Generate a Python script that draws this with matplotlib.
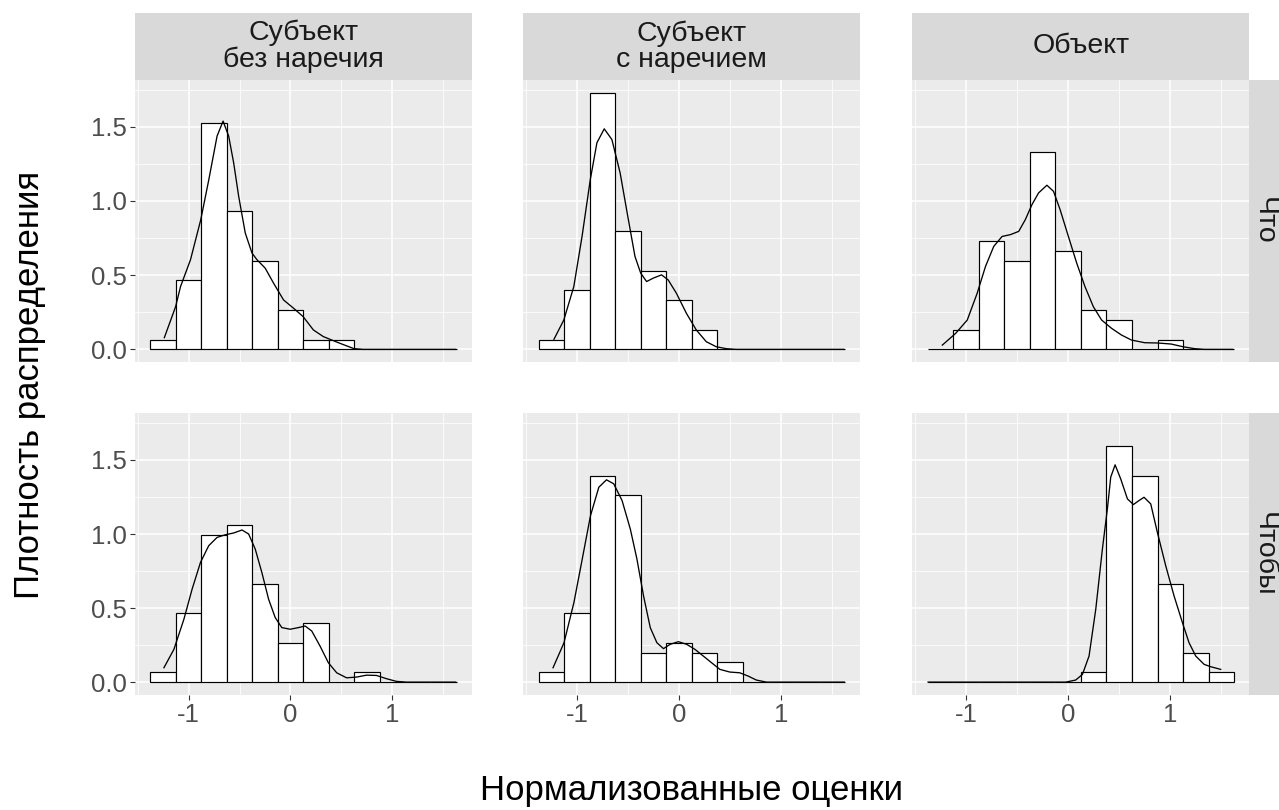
import matplotlib
matplotlib.use("Agg")
import matplotlib.pyplot as plt
import numpy as np

plt.rcParams['font.family'] = ['Liberation Sans', 'DejaVu Sans']

# ---------------- data ----------------
col_labels = ["Субъект\nбез наречия", "Субъект\nс наречием", "Объект"]
row_labels = ["Что", "Чтобы"]

bin_edges = [-1.380, -1.129, -0.878, -0.627, -0.376, -0.125, 0.126,
             0.377, 0.628, 0.879, 1.130, 1.381, 1.632]
n_obs = 60

counts_chto_subj_no_adv = [1, 7, 23, 14, 9, 4, 1, 1, 0, 0, 0, 0]
counts_chto_subj_adv = [1, 6, 26, 12, 8, 5, 2, 0, 0, 0, 0, 0]
counts_chto_obj = [0, 2, 11, 9, 20, 10, 4, 3, 0, 1, 0, 0]
counts_chtoby_subj_no_adv = [1, 7, 15, 16, 10, 4, 6, 0, 1, 0, 0, 0]
counts_chtoby_subj_adv = [1, 7, 21, 19, 3, 4, 3, 2, 0, 0, 0, 0]
counts_chtoby_obj = [0, 0, 0, 0, 0, 0, 1, 24, 21, 10, 3, 1]

# density curves
dens_x_chto_subj_no_adv = [-1.239, -1.128, -1.080, -0.982, -0.881, -0.802, -0.721, -0.662, -0.607,
                           -0.558, -0.509, -0.444, -0.378, -0.329, -0.248, -0.166, -0.068, 0.029,
                           0.124, 0.225, 0.323, 0.388, 0.486, 0.623, 0.714, 1.621]
dens_y_chto_subj_no_adv = [0.079, 0.288, 0.423, 0.604, 0.874, 1.144, 1.437, 1.538, 1.437,
                           1.257, 1.032, 0.784, 0.649, 0.604, 0.547, 0.446, 0.333, 0.278,
                           0.221, 0.131, 0.086, 0.068, 0.041, 0.005, 0.0, 0.0]

dens_x_chto_subj_adv = [-1.229, -1.132, -1.034, -0.953, -0.872, -0.807, -0.735, -0.660, -0.579,
                        -0.498, -0.433, -0.377, -0.319, -0.254, -0.172, -0.107, -0.026, 0.072,
                        0.169, 0.267, 0.364, 0.462, 0.559, 1.616]
dens_y_chto_subj_adv = [0.068, 0.198, 0.423, 0.761, 1.144, 1.392, 1.486, 1.414, 1.189,
                        0.874, 0.626, 0.514, 0.457, 0.480, 0.502, 0.468, 0.378, 0.243,
                        0.131, 0.052, 0.018, 0.005, 0.0, 0.0]

dens_x_chto_obj = [-1.235, -1.104, -0.990, -0.893, -0.811, -0.730, -0.648, -0.567, -0.485,
                   -0.420, -0.355, -0.290, -0.208, -0.143, -0.078, 0.003, 0.085, 0.166,
                   0.248, 0.329, 0.427, 0.524, 0.622, 0.752, 0.883, 1.013, 1.127, 1.241,
                   1.339, 1.616]
dens_y_chto_obj = [0.029, 0.108, 0.198, 0.378, 0.559, 0.694, 0.761, 0.773, 0.795,
                   0.874, 0.975, 1.054, 1.106, 1.065, 0.941, 0.761, 0.581, 0.423,
                   0.288, 0.198, 0.142, 0.097, 0.063, 0.045, 0.043, 0.036, 0.018, 0.005,
                   0.0, 0.0]

dens_x_chtoby_subj_no_adv = [-1.243, -1.145, -1.047, -0.966, -0.884, -0.803, -0.721, -0.639, -0.558,
                             -0.476, -0.411, -0.346, -0.281, -0.215, -0.150, -0.085, -0.003, 0.078,
                             0.144, 0.209, 0.290, 0.372, 0.454, 0.551, 0.649, 0.747, 0.845, 0.943,
                             1.041, 1.139, 1.622]
dens_y_chtoby_subj_no_adv = [0.097, 0.221, 0.424, 0.628, 0.808, 0.921, 0.977, 0.995, 1.007,
                             1.027, 1.000, 0.898, 0.740, 0.560, 0.436, 0.368, 0.357, 0.368,
                             0.379, 0.345, 0.244, 0.131, 0.063, 0.029, 0.034, 0.047, 0.045, 0.023,
                             0.005, 0.0, 0.0]

dens_x_chtoby_subj_adv = [-1.238, -1.130, -1.033, -0.951, -0.870, -0.788, -0.713, -0.642, -0.560,
                          -0.479, -0.414, -0.349, -0.283, -0.218, -0.153, -0.088, -0.007, 0.075,
                          0.156, 0.238, 0.319, 0.401, 0.498, 0.596, 0.678, 0.759, 0.857, 1.622]
dens_y_chtoby_subj_adv = [0.097, 0.266, 0.537, 0.831, 1.124, 1.316, 1.366, 1.339, 1.226,
                          1.034, 0.831, 0.582, 0.368, 0.266, 0.226, 0.255, 0.273, 0.255,
                          0.221, 0.176, 0.131, 0.086, 0.068, 0.063, 0.041, 0.014, 0.0, 0.0]

dens_x_chtoby_obj = [-1.375, -0.023, 0.075, 0.141, 0.206, 0.272, 0.337, 0.386, 0.419,
                     0.462, 0.517, 0.583, 0.642, 0.697, 0.746, 0.812, 0.877, 0.959,
                     1.041, 1.123, 1.188, 1.254, 1.336, 1.401, 1.499]
dens_y_chtoby_obj = [0.0, 0.0, 0.014, 0.052, 0.176, 0.492, 0.898, 1.169, 1.384,
                     1.467, 1.372, 1.237, 1.199, 1.226, 1.248, 1.203, 1.011, 0.786,
                     0.582, 0.402, 0.266, 0.176, 0.120, 0.104, 0.086]

panel_counts = [[counts_chto_subj_no_adv, counts_chto_subj_adv, counts_chto_obj],
                [counts_chtoby_subj_no_adv, counts_chtoby_subj_adv, counts_chtoby_obj]]
panel_dens = [[(dens_x_chto_subj_no_adv, dens_y_chto_subj_no_adv),
               (dens_x_chto_subj_adv, dens_y_chto_subj_adv),
               (dens_x_chto_obj, dens_y_chto_obj)],
              [(dens_x_chtoby_subj_no_adv, dens_y_chtoby_subj_no_adv),
               (dens_x_chtoby_subj_adv, dens_y_chtoby_subj_adv),
               (dens_x_chtoby_obj, dens_y_chtoby_obj)]]

x_title = "Нормализованные оценки"
y_title = "Плотность распределения"

# ---------------- layout ----------------
W, H = 1279, 810
fig = plt.figure(figsize=(W / 100, H / 100), dpi=100)
fig.patch.set_facecolor("white")

cols_px = [(134.7, 471.7), (523.3, 860.3), (912.3, 1249.3)]
rows_px = [(80.0, 362.3), (413.3, 695.0)]
strip_top = 12.7
strip_right = 1279.0

def rect(x0, y0, x1, y1):
    return [x0 / W, 1 - y1 / H, (x1 - x0) / W, (y1 - y0) / H]

edges = np.array(bin_edges)
lefts = edges[:-1]
widths = np.diff(edges)

TICK_COL = "#4D4D4D"
for r, (y0, y1) in enumerate(rows_px):
    for c, (x0, x1) in enumerate(cols_px):
        ax = fig.add_axes(rect(x0, y0, x1, y1))
        ax.set_facecolor("#EBEBEB")
        for s in ax.spines.values():
            s.set_visible(False)
        ax.set_xlim(-1.53, 1.78)
        ax.set_ylim(-0.087, 1.815)
        ax.set_xticks([-1, 0, 1])
        ax.set_xticks([-1.5, -0.5, 0.5, 1.5], minor=True)
        ax.set_yticks([0.0, 0.5, 1.0, 1.5])
        ax.set_yticks([0.25, 0.75, 1.25, 1.75], minor=True)
        ax.grid(True, which="major", color="white", linewidth=1.1)
        ax.grid(True, which="minor", color="white", linewidth=0.55)
        ax.set_axisbelow(True)
        ax.tick_params(which="minor", length=0)
        ax.tick_params(which="major", length=3.5, width=0.8, color="#333333",
                       labelsize=18.5, labelcolor=TICK_COL, pad=2)
        if c == 0:
            ax.set_yticklabels(["0.0", "0.5", "1.0", "1.5"])
        else:
            ax.tick_params(axis="y", which="major", length=0, labelleft=False)
        if r == 1:
            ax.set_xticklabels(["-1", "0", "1"])
        else:
            ax.tick_params(axis="x", which="major", length=0, labelbottom=False)

        cnt = np.array(panel_counts[r][c], dtype=float)
        dens = cnt / (n_obs * widths)
        ax.bar(lefts, dens, width=widths, align="edge", facecolor="white",
               edgecolor="black", linewidth=0.85, zorder=2)
        dx, dy = panel_dens[r][c]
        ax.plot(dx, dy, color="black", linewidth=0.95, zorder=3,
                solid_joinstyle="round")

        # top strips
        if r == 0:
            sax = fig.add_axes(rect(x0, strip_top, x1, y0))
            sax.set_facecolor("#D9D9D9")
            sax.set_xticks([]); sax.set_yticks([])
            for s in sax.spines.values():
                s.set_visible(False)
            sax.text(0.5, 0.5, col_labels[c], ha="center", va="center",
                     fontsize=20.5, color="#1A1A1A", linespacing=1.0,
                     transform=sax.transAxes)
        # right strips
        if c == 2:
            sax = fig.add_axes(rect(x1, y0, strip_right, y1))
            sax.set_facecolor("#D9D9D9")
            sax.set_xticks([]); sax.set_yticks([])
            for s in sax.spines.values():
                s.set_visible(False)
            sax.text(0.5, 0.5, row_labels[r], ha="center", va="center",
                     fontsize=20.5, color="#1A1A1A", rotation=-90,
                     transform=sax.transAxes)

# axis titles
fig.text((cols_px[0][0] + cols_px[2][1]) / 2 / W, 1 - 800 / H, x_title,
         ha="center", va="baseline", fontsize=25, color="black")
fig.text(30 / W, 1 - 385 / H, y_title,
         ha="center", va="center", fontsize=25, color="black", rotation=90)

fig.savefig("out.png", dpi=100, facecolor="white")
